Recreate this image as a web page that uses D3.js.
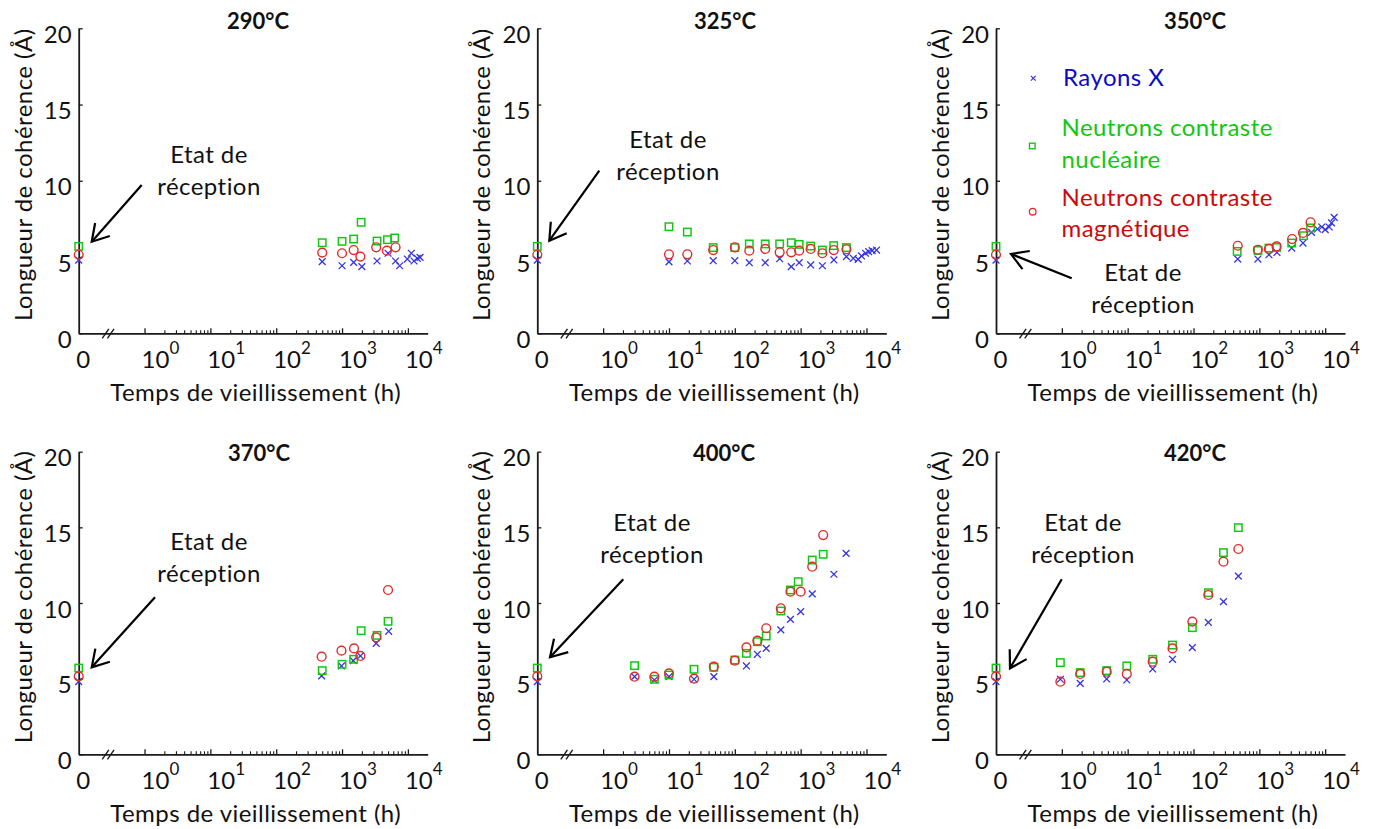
<!DOCTYPE html>
<html><head><meta charset="utf-8">
<script src="https://cdn.jsdelivr.net/npm/d3@7"></script>
<style>
body{margin:0;background:#fff}
svg text{font-family:Lato,"Open Sans",sans-serif;fill:#111}
</style></head>
<body><svg id="chart" width="1375" height="829"></svg>
<script>
// ---------------- data ----------------
const temperatures = ['290°C','325°C','350°C','370°C','400°C','420°C'];
const seriesNames = ['Rayons X','Neutrons contraste nucléaire','Neutrons contraste magnétique'];
const yTickValues = [0,5,10,15,20];
const xTickValues = [1,10,100,1000,10000];
const xTickBase = ['10','10','10','10','10'];
const xTickExp = ['0','1','2','3','4'];
const zeroTickLabel = '0';
const yLabel = 'Longueur de cohérence (Å)';
const xLabel = 'Temps de vieillissement (h)';
const annotationLines = ['Etat de','réception'];
// initial state (t = 0 h), drawn on the broken "0" position
const initRX = 4.8, initNN = 5.7, initNM = 5.15;

// [time (h), length (Å)]
const rx290 = [[500,4.70],[1000,4.43],[1500,4.65],[2000,4.37],[3400,4.74],[5000,5.25],[6500,4.74],[7500,4.43],[9800,4.87],[11300,5.25],[12400,4.74],[13900,4.92],[15300,4.98]];
const nn290 = [[500,5.94],[1000,6.03],[1500,6.18],[1950,7.28],[3400,6.05],[4900,6.14],[6300,6.25]];
const nm290 = [[500,5.29],[1000,5.25],[1500,5.46],[1900,5.03],[3300,5.64],[4800,5.42],[6500,5.64]];

const rx325 = [[10,4.68],[19,4.74],[47,4.76],[100,4.76],[166,4.63],[290,4.63],[480,4.89],[720,4.37],[950,4.63],[1420,4.48],[2140,4.43],[3200,4.81],[4960,5.03],[6300,4.92],[7480,4.85],[8400,5.07],[9660,5.25],[10800,5.35],[12200,5.42],[14200,5.46]];
const nn325 = [[10,6.99],[19,6.64],[47,5.62],[100,5.62],[166,5.86],[290,5.86],[480,5.86],[720,5.94],[950,5.83],[1420,5.72],[2140,5.46],[3180,5.75],[4960,5.62]];
const nm325 = [[10,5.18],[19,5.18],[47,5.46],[100,5.64],[166,5.42],[290,5.53],[480,5.31],[720,5.31],[950,5.42],[1420,5.53],[2140,5.25],[3180,5.46],[4960,5.51]];

const rx350 = [[470,4.87],[950,4.87],[1400,5.15],[1850,5.30],[3100,5.59],[4600,5.92],[6200,6.62],[7650,6.84],[8900,6.97],[10000,6.80],[11500,6.97],[12500,7.24],[13700,7.60]];
const nn350 = [[460,5.37],[950,5.43],[1400,5.59],[1830,5.63],[3100,5.92],[4700,6.40],[6000,6.91]];
const nm350 = [[470,5.74],[950,5.48],[1400,5.53],[1830,5.70],[3150,6.18],[4600,6.58],[6000,7.28]];

const rx370 = [[490,5.18],[980,5.84],[1480,6.19],[1900,6.50],[3300,7.33],[5100,8.13]];
const nn370 = [[500,5.53],[1000,5.95],[1500,6.28],[1950,8.17],[3400,7.86],[5000,8.79]];
const nm370 = [[490,6.45],[980,6.85],[1520,7.00],[1900,6.50],[3300,7.73],[5000,10.86]];

const rx400 = [[3,5.13],[6,4.91],[10,5.13],[24,4.96],[48,5.13],[150,5.84],[220,6.61],[300,7.00],[500,8.22],[700,8.92],[1000,9.43],[1500,10.60],[3200,11.90],[4900,13.28]];
const nn400 = [[3,5.86],[6,4.96],[10,5.24],[24,5.62],[48,5.75],[100,6.23],[150,6.67],[220,7.44],[300,7.82],[500,9.47],[700,10.86],[920,11.41],[1500,12.84],[2200,13.22]];
const nm400 = [[3,5.13],[6,5.13],[10,5.35],[24,5.00],[48,5.79],[100,6.19],[150,7.07],[220,7.51],[300,8.33],[500,9.65],[700,10.75],[1000,10.75],[1500,12.40],[2200,14.49]];

const rx420 = [[0.95,4.96],[1.9,4.69],[4.8,4.98],[9.7,4.91],[24,5.64],[48,6.28],[96,7.05],[168,8.72],[285,10.09],[480,11.78]];
const nn420 = [[0.95,6.06],[1.9,5.40],[4.8,5.53],[9.7,5.84],[24,6.28],[48,7.22],[96,8.37],[168,10.68],[285,13.33],[480,14.98]];
const nm420 = [[0.95,4.80],[1.9,5.31],[4.8,5.46],[9.7,5.31],[24,6.12],[48,7.00],[96,8.77],[168,10.53],[285,12.73],[480,13.57]];

const rxData = [rx290,rx325,rx350,rx370,rx400,rx420];
const nnData = [nn290,nn325,nn350,nn370,nn400,nn420];
const nmData = [nm290,nm325,nm350,nm370,nm400,nm420];

// ---------------- layout ----------------
const xDomain = [0.1, 20000];     // left end of axis = "0" (broken axis)
const breakAt = 0.28;
const colLeft = [78.7, 537.3, 996];
const plotW = 349;
const rowY = [[333.3, 28.3],[754.3, 451.7]];
const titlePos = [[258,29],[725,29],[1195,29],[259,461],[724,461],[1195,461]];
// annotation: text centre x, first baseline y, arrow start, arrow tip
const annot = [
  {tx:209, ty:163, x1:141.7, y1:185, x2:91.7, y2:241.7},
  {tx:668, ty:148, x1:599.3, y1:170.7, x2:549.3, y2:240.7},
  {tx:1143, ty:281, x1:1071.7, y1:278.3, x2:1011, y2:254},
  {tx:209, ty:550, x1:155, y1:597.3, x2:91.7, y2:667.3},
  {tx:652, ty:531, x1:623.3, y1:579.3, x2:550, y2:657.3},
  {tx:1083, ty:531, x1:1061.7, y1:579.3, x2:1010, y2:668.3}
];
const colRX = '#3434e0', colNN = '#12c812', colNM = '#e02c2c';
const txtRX = '#0a0ac8', txtNN = '#10c810', txtNM = '#cc0a0a';

const svg = d3.select('#chart');
const FS = 24, TFS = 24, LS = '0.45px';

function drawX(g, x, y, s, c, w){
  g.append('path').attr('d',`M${x-s},${y-s}L${x+s},${y+s}M${x-s},${y+s}L${x+s},${y-s}`)
   .attr('stroke',c).attr('stroke-width',w).attr('fill','none');
}
function drawSq(g, x, y, s, c, w){
  g.append('rect').attr('x',x-s).attr('y',y-s).attr('width',2*s).attr('height',2*s)
   .attr('stroke',c).attr('stroke-width',w).attr('fill','none');
}
function drawCi(g, x, y, r, c, w){
  g.append('circle').attr('cx',x).attr('cy',y).attr('r',r)
   .attr('stroke',c).attr('stroke-width',w).attr('fill','none');
}

temperatures.forEach((temp, i) => {
  const col = i % 3, row = Math.floor(i / 3);
  const left = colLeft[col];
  const [y0, y1] = rowY[row];
  const x = d3.scaleLog().domain(xDomain).range([left, left + plotW]);
  const y = d3.scaleLinear().domain([0, 20]).range([y0, y1]);
  const g = svg.append('g');
  const px = t => x(t === 0 ? xDomain[0] : t);

  // y axis
  const ya = g.append('g').attr('transform',`translate(${left},0)`)
    .call(d3.axisLeft(y).tickValues(yTickValues).tickSize(-4).tickSizeOuter(0).tickPadding(7));
  ya.select('.domain').attr('stroke','#1a1a1a').attr('stroke-width',1.8);
  ya.selectAll('.tick line').attr('stroke','#1a1a1a').attr('stroke-width',1.3);
  ya.selectAll('.tick text').attr('font-size',TFS).attr('font-family','Lato').attr('fill','#111')
    .attr('transform','translate(0,6.5)');

  // x axis (major ticks)
  const xa = g.append('g').attr('transform',`translate(0,${y0})`)
    .call(d3.axisBottom(x).tickValues(xTickValues).tickSize(-5).tickSizeOuter(0).tickFormat(''));
  xa.select('.domain').attr('stroke','#1a1a1a').attr('stroke-width',1.8);
  xa.selectAll('.tick line').attr('stroke','#1a1a1a').attr('stroke-width',1.3);
  // minor ticks
  const minor = [];
  [1,10,100,1000].forEach(d => { for (let k = 2; k <= 9; k++) minor.push(d * k); });
  const xm = g.append('g').attr('transform',`translate(0,${y0})`)
    .call(d3.axisBottom(x).tickValues(minor).tickSize(-3).tickSizeOuter(0).tickFormat(''));
  xm.select('.domain').remove();
  xm.selectAll('.tick line').attr('stroke','#1a1a1a').attr('stroke-width',1.1);

  // x tick labels with superscripts
  xTickValues.forEach((v, k) => {
    const t = g.append('text').attr('x', x(v) - 3).attr('y', y0 + 34.5).attr('font-size', TFS);
    t.append('tspan').text(xTickBase[k]);
    t.append('tspan').attr('font-size', 17).attr('dy', -14).text(xTickExp[k]);
  });
  g.append('text').attr('x', x(xDomain[0]) - 2.5).attr('y', y0 + 34.5).attr('font-size', TFS).text(zeroTickLabel);

  // axis break
  const bx = x(breakAt);
  [-2.6, 2.6].forEach(o => {
    g.append('line').attr('x1', bx + o - 3.3).attr('y1', y0 + 5).attr('x2', bx + o + 3.3).attr('y2', y0 - 4.5)
      .attr('stroke','#1a1a1a').attr('stroke-width',1.4);
  });

  // labels
  g.append('text').attr('x', left + 177).attr('y', y0 + 68).attr('text-anchor','middle')
    .attr('font-size', FS).style('letter-spacing', LS).text(xLabel);
  const ymid = (y0 + y1) / 2 - 6;
  g.append('text').attr('transform',`translate(${left - 47},${ymid}) rotate(-90)`)
    .attr('text-anchor','middle').attr('font-size', FS).style('letter-spacing', LS).text(yLabel);
  g.append('text').attr('x', titlePos[i][0]).attr('y', titlePos[i][1]).attr('text-anchor','middle')
    .attr('font-size', 22).attr('font-weight','bold').text(temp);

  // data
  const rx = [[0, initRX]].concat(rxData[i]);
  const nn = [[0, initNN]].concat(nnData[i]);
  const nm = [[0, initNM]].concat(nmData[i]);
  rx.forEach(d => drawX(g, px(d[0]), y(d[1]), 3.4, colRX, 1.3));
  nn.forEach(d => drawSq(g, px(d[0]), y(d[1]), 3.7, colNN, 1.5));
  nm.forEach(d => drawCi(g, px(d[0]), y(d[1]), 4.4, colNM, 1.4));

  // annotation
  const a = annot[i];
  annotationLines.forEach((s, k) => {
    g.append('text').attr('x', a.tx).attr('y', a.ty + k * 32).attr('text-anchor','middle')
      .attr('font-size', FS).style('letter-spacing', LS).text(s);
  });
  g.append('line').attr('x1',a.x1).attr('y1',a.y1).attr('x2',a.x2).attr('y2',a.y2)
    .attr('stroke','#000').attr('stroke-width',2.2);
  const ang = Math.atan2(a.y1 - a.y2, a.x1 - a.x2), L = 19, sp = 31 * Math.PI / 180;
  const hp = [ang - sp, ang + sp].map(t => [a.x2 + L * Math.cos(t), a.y2 + L * Math.sin(t)]);
  g.append('path').attr('d',`M${hp[0][0]},${hp[0][1]}L${a.x2},${a.y2}L${hp[1][0]},${hp[1][1]}`)
    .attr('stroke','#000').attr('stroke-width',2.2).attr('fill','none');
});

// legend (inside 350°C panel)
const lg = svg.append('g');
drawX(lg, 1033.3, 78.3, 2.4, colRX, 1.2);
lg.append('text').attr('x',1063).attr('y',86).attr('font-size',FS).style('letter-spacing',LS).style('fill',txtRX).text(seriesNames[0]);
drawSq(lg, 1032.3, 146, 2.8, colNN, 1.4);
lg.append('text').attr('x',1061.5).attr('y',135.5).attr('font-size',FS).style('letter-spacing',LS).style('fill',txtNN).text('Neutrons contraste');
lg.append('text').attr('x',1061.5).attr('y',167.5).attr('font-size',FS).style('letter-spacing',LS).style('fill',txtNN).text('nucléaire');
drawCi(lg, 1032.7, 211.7, 3.3, colNM, 1.3);
lg.append('text').attr('x',1061.5).attr('y',206).attr('font-size',FS).style('letter-spacing',LS).style('fill',txtNM).text('Neutrons contraste');
lg.append('text').attr('x',1061.5).attr('y',236.5).attr('font-size',FS).style('letter-spacing',LS).style('fill',txtNM).text('magnétique');
</script>
</body></html>
